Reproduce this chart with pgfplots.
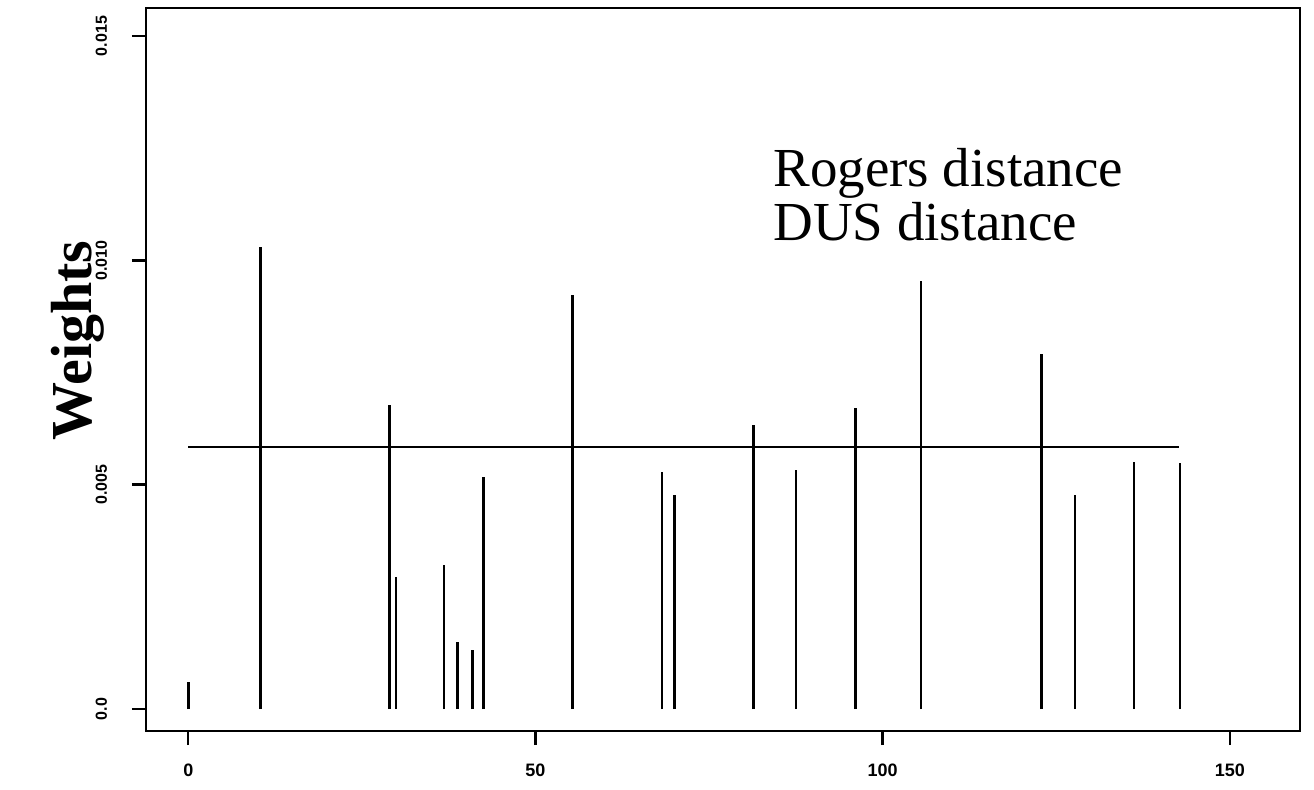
\documentclass[border=0pt]{standalone}
\usepackage{fontspec}
\setmainfont{Liberation Serif}
\setsansfont{Liberation Sans}
\usepackage{pgfplots}
\pgfplotsset{compat=1.18}

\begin{document}
\begin{tikzpicture}
	\begin{axis}[
		at={(0,0)}, anchor=south west,
		scale only axis,
		width=577pt, height=361.5pt,
		xmin=-6.09, xmax=160.1,
		ymin=-0.00049, ymax=0.015624,
		xtick={0,50,100,150},
		ytick={0,0.005,0.01,0.015},
		yticklabels={0.0,0.005,0.010,0.015},
		scaled y ticks=false,
		xtick pos=lower, ytick pos=left,
		tick align=outside,
		major tick length=7pt,
		tick style={black, line width=1.2pt},
		axis line style={line width=1.3pt},
		/pgf/number format/assume math mode=true,
		xticklabel style={font=\sffamily\bfseries\fontsize{9}{9}\selectfont, yshift=-6pt},
		yticklabel style={font=\sffamily\bfseries\fontsize{8}{8}\selectfont, rotate=90, anchor=south, yshift=9pt},
		clip=false,
	]
		% weights per marker
		\addplot[ycomb, black, line width=1.3pt, no marks] coordinates {
			(0,0.0006)
			(10.4,0.01030)
			(29.0,0.00678)
			(29.9,0.00294)
			(36.8,0.00321)
			(38.8,0.00149)
			(40.9,0.00131)
			(42.5,0.00517)
			(55.3,0.00923)
			(68.2,0.00529)
			(70.0,0.00477)
			(81.4,0.00633)
			(87.5,0.00533)
			(96.1,0.00670)
			(105.5,0.00955)
			(122.9,0.00791)
			(127.7,0.00477)
			(136.2,0.00551)
			(142.8,0.00548)
		};
		% uniform weight
		\addplot[black, line width=1.3pt, no marks] coordinates {(0,0.00584)(142.7,0.00584)};

		\node[anchor=base west, font=\fontsize{27.5}{27.5}\selectfont, inner sep=0pt] at (axis cs:84.2,0.01165) {Rogers distance};
		\node[anchor=base west, font=\fontsize{27.5}{27.5}\selectfont, inner sep=0pt] at (axis cs:84.2,0.01045) {DUS distance};
		\node[rotate=90, font=\bfseries\fontsize{29}{29}\selectfont, inner sep=0pt] at ([xshift=-34pt]rel axis cs:0,0.54) {Weights};
	\end{axis}
	\path[use as bounding box] (-73pt,-29pt) rectangle (584pt,365.5pt);
\end{tikzpicture}
\end{document}
